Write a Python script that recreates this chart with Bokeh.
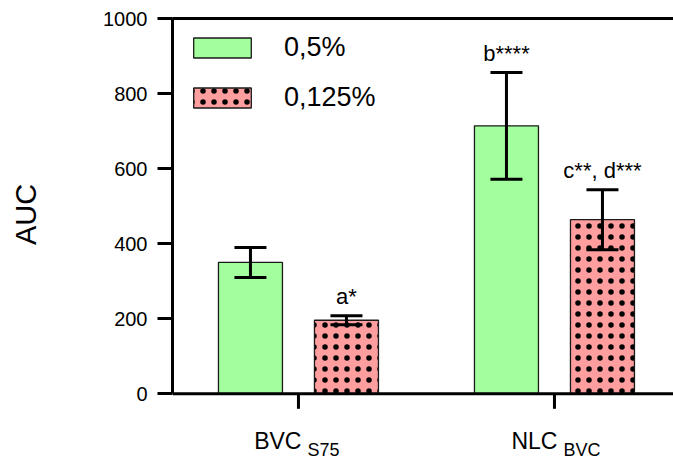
import math
from bokeh.plotting import figure
from bokeh.layouts import column
from bokeh.models import (ColumnDataSource, Whisker, TeeHead, LinearAxis, FixedTicker,
                          Legend, LegendItem, Range1d, Span)
from bokeh.core.properties import value
from bokeh.embed import file_html
from bokeh.resources import INLINE

# ---- data ----
categories = ["BVC", "NLC"]
subscripts = ["S75", "BVC"]
series_names = ["0,5%", "0,125%"]
mean_05 = [350, 714]
err_05 = [40, 142]
mean_0125 = [196, 464]
err_0125 = [12, 80]
sig_05 = ["", "b****"]
sig_0125 = ["a*", "c**, d***"]
y_ticks = [0, 200, 400, 600, 800, 1000]

FONT = "Liberation Sans"
positions = [1, 2]
offset = 0.1875
bar_w = 0.25
xr = Range1d(0.508, 2.465)

p = figure(width=673, height=410, output_backend="svg", toolbar_location=None,
           x_range=xr, y_range=Range1d(-44.5, 1000),
           min_border_left=172, min_border_right=0, min_border_top=18, min_border_bottom=0,
           x_axis_type=None, y_axis_type=None)
p.outline_line_color = None
p.xgrid.visible = False
p.ygrid.visible = False

# y axis (limited to 0..1000)
yax = LinearAxis(ticker=FixedTicker(ticks=y_ticks), bounds=(0, 1000))
yax.axis_line_width = 3
yax.major_tick_line_width = 3
yax.major_tick_out = 15
yax.major_tick_in = 0
yax.minor_tick_line_color = None
yax.major_label_text_font = FONT
yax.major_label_text_font_size = "20px"
yax.major_label_text_color = "black"
yax.major_label_standoff = 10
yax.axis_label = "AUC"
yax.axis_label_text_font = FONT
yax.axis_label_text_font_size = "29px"
yax.axis_label_text_font_style = "normal"
yax.axis_label_text_color = "black"
yax.axis_label_standoff = 58
p.add_layout(yax, "left")

# top frame line
tax = LinearAxis(ticker=FixedTicker(ticks=[]))
tax.axis_line_width = 3
tax.major_tick_line_color = None
tax.minor_tick_line_color = None
tax.major_label_text_font_size = "1px"
p.add_layout(tax, "above")

# x axis line at 0 with category ticks
p.add_layout(Span(location=0, dimension="width", line_width=3, line_color="black"))
p.ray(x=positions, y=[0] * len(positions), length=15, length_units="screen",
      angle=-math.pi / 2, line_width=3, line_color="black")

src05 = ColumnDataSource(dict(
    x=[c - offset for c in positions], top=mean_05,
    upper=[m + e for m, e in zip(mean_05, err_05)],
    lower=[m - e for m, e in zip(mean_05, err_05)],
    sig=sig_05))
src0125 = ColumnDataSource(dict(
    x=[c + offset for c in positions], top=mean_0125,
    upper=[m + e for m, e in zip(mean_0125, err_0125)],
    lower=[m - e for m, e in zip(mean_0125, err_0125)],
    sig=sig_0125))

r05 = p.vbar(x="x", top="top", bottom=0, width=bar_w, source=src05,
             fill_color="#a3ff9e", line_color="#1a1a1a", line_width=1.3)
r0125 = p.vbar(x="x", top="top", bottom=0, width=bar_w, source=src0125,
               fill_color="#ff9e9e", line_color="#1a1a1a", line_width=1.3,
               hatch_pattern="dot", hatch_color="black", hatch_scale=11, hatch_weight=1)

for src in (src05, src0125):
    wh = Whisker(base="x", upper="upper", lower="lower", source=src,
                 line_width=3, line_color="black", level="overlay",
                 upper_head=TeeHead(size=32, line_width=3, line_color="black"),
                 lower_head=TeeHead(size=32, line_width=3, line_color="black"))
    p.add_layout(wh)
    p.text(x="x", y="upper", text="sig", source=src, text_align="center",
           text_baseline="alphabetic", y_offset=-19, text_font=value(FONT),
           text_font_size="22px", text_color="black")

legend = Legend(items=[LegendItem(label=series_names[0], renderers=[r05]),
                       LegendItem(label=series_names[1], renderers=[r0125])],
                location="top_left", glyph_width=72, glyph_height=25,
                label_standoff=26, spacing=19, label_height=20,
                label_text_font=FONT, label_text_font_size="27px",
                label_text_color="black",
                border_line_color=None, background_fill_alpha=0,
                margin=14, padding=13)
p.add_layout(legend)

# category labels (with subscripts) in a strip below, sharing the x range
pb = figure(width=673, height=49, output_backend="svg", toolbar_location=None,
            x_range=xr, y_range=Range1d(0, 49),
            min_border_left=172, min_border_right=0, min_border_top=0, min_border_bottom=0,
            x_axis_type=None, y_axis_type=None)
pb.outline_line_color = None
pb.xgrid.visible = False
pb.ygrid.visible = False
pb.text(x=positions, y=[0] * len(positions), text=categories, text_align="right",
        text_baseline="alphabetic", x_offset=3, y_offset=-19, text_font=value(FONT),
        text_font_size="23px", text_color="black")
pb.text(x=positions, y=[0] * len(positions), text=subscripts, text_align="left",
        text_baseline="alphabetic", x_offset=9, y_offset=-10, text_font=value(FONT),
        text_font_size="18px", text_color="black")

layout = column(p, pb, spacing=0)
open("out.html", "w").write(file_html(layout, INLINE))
